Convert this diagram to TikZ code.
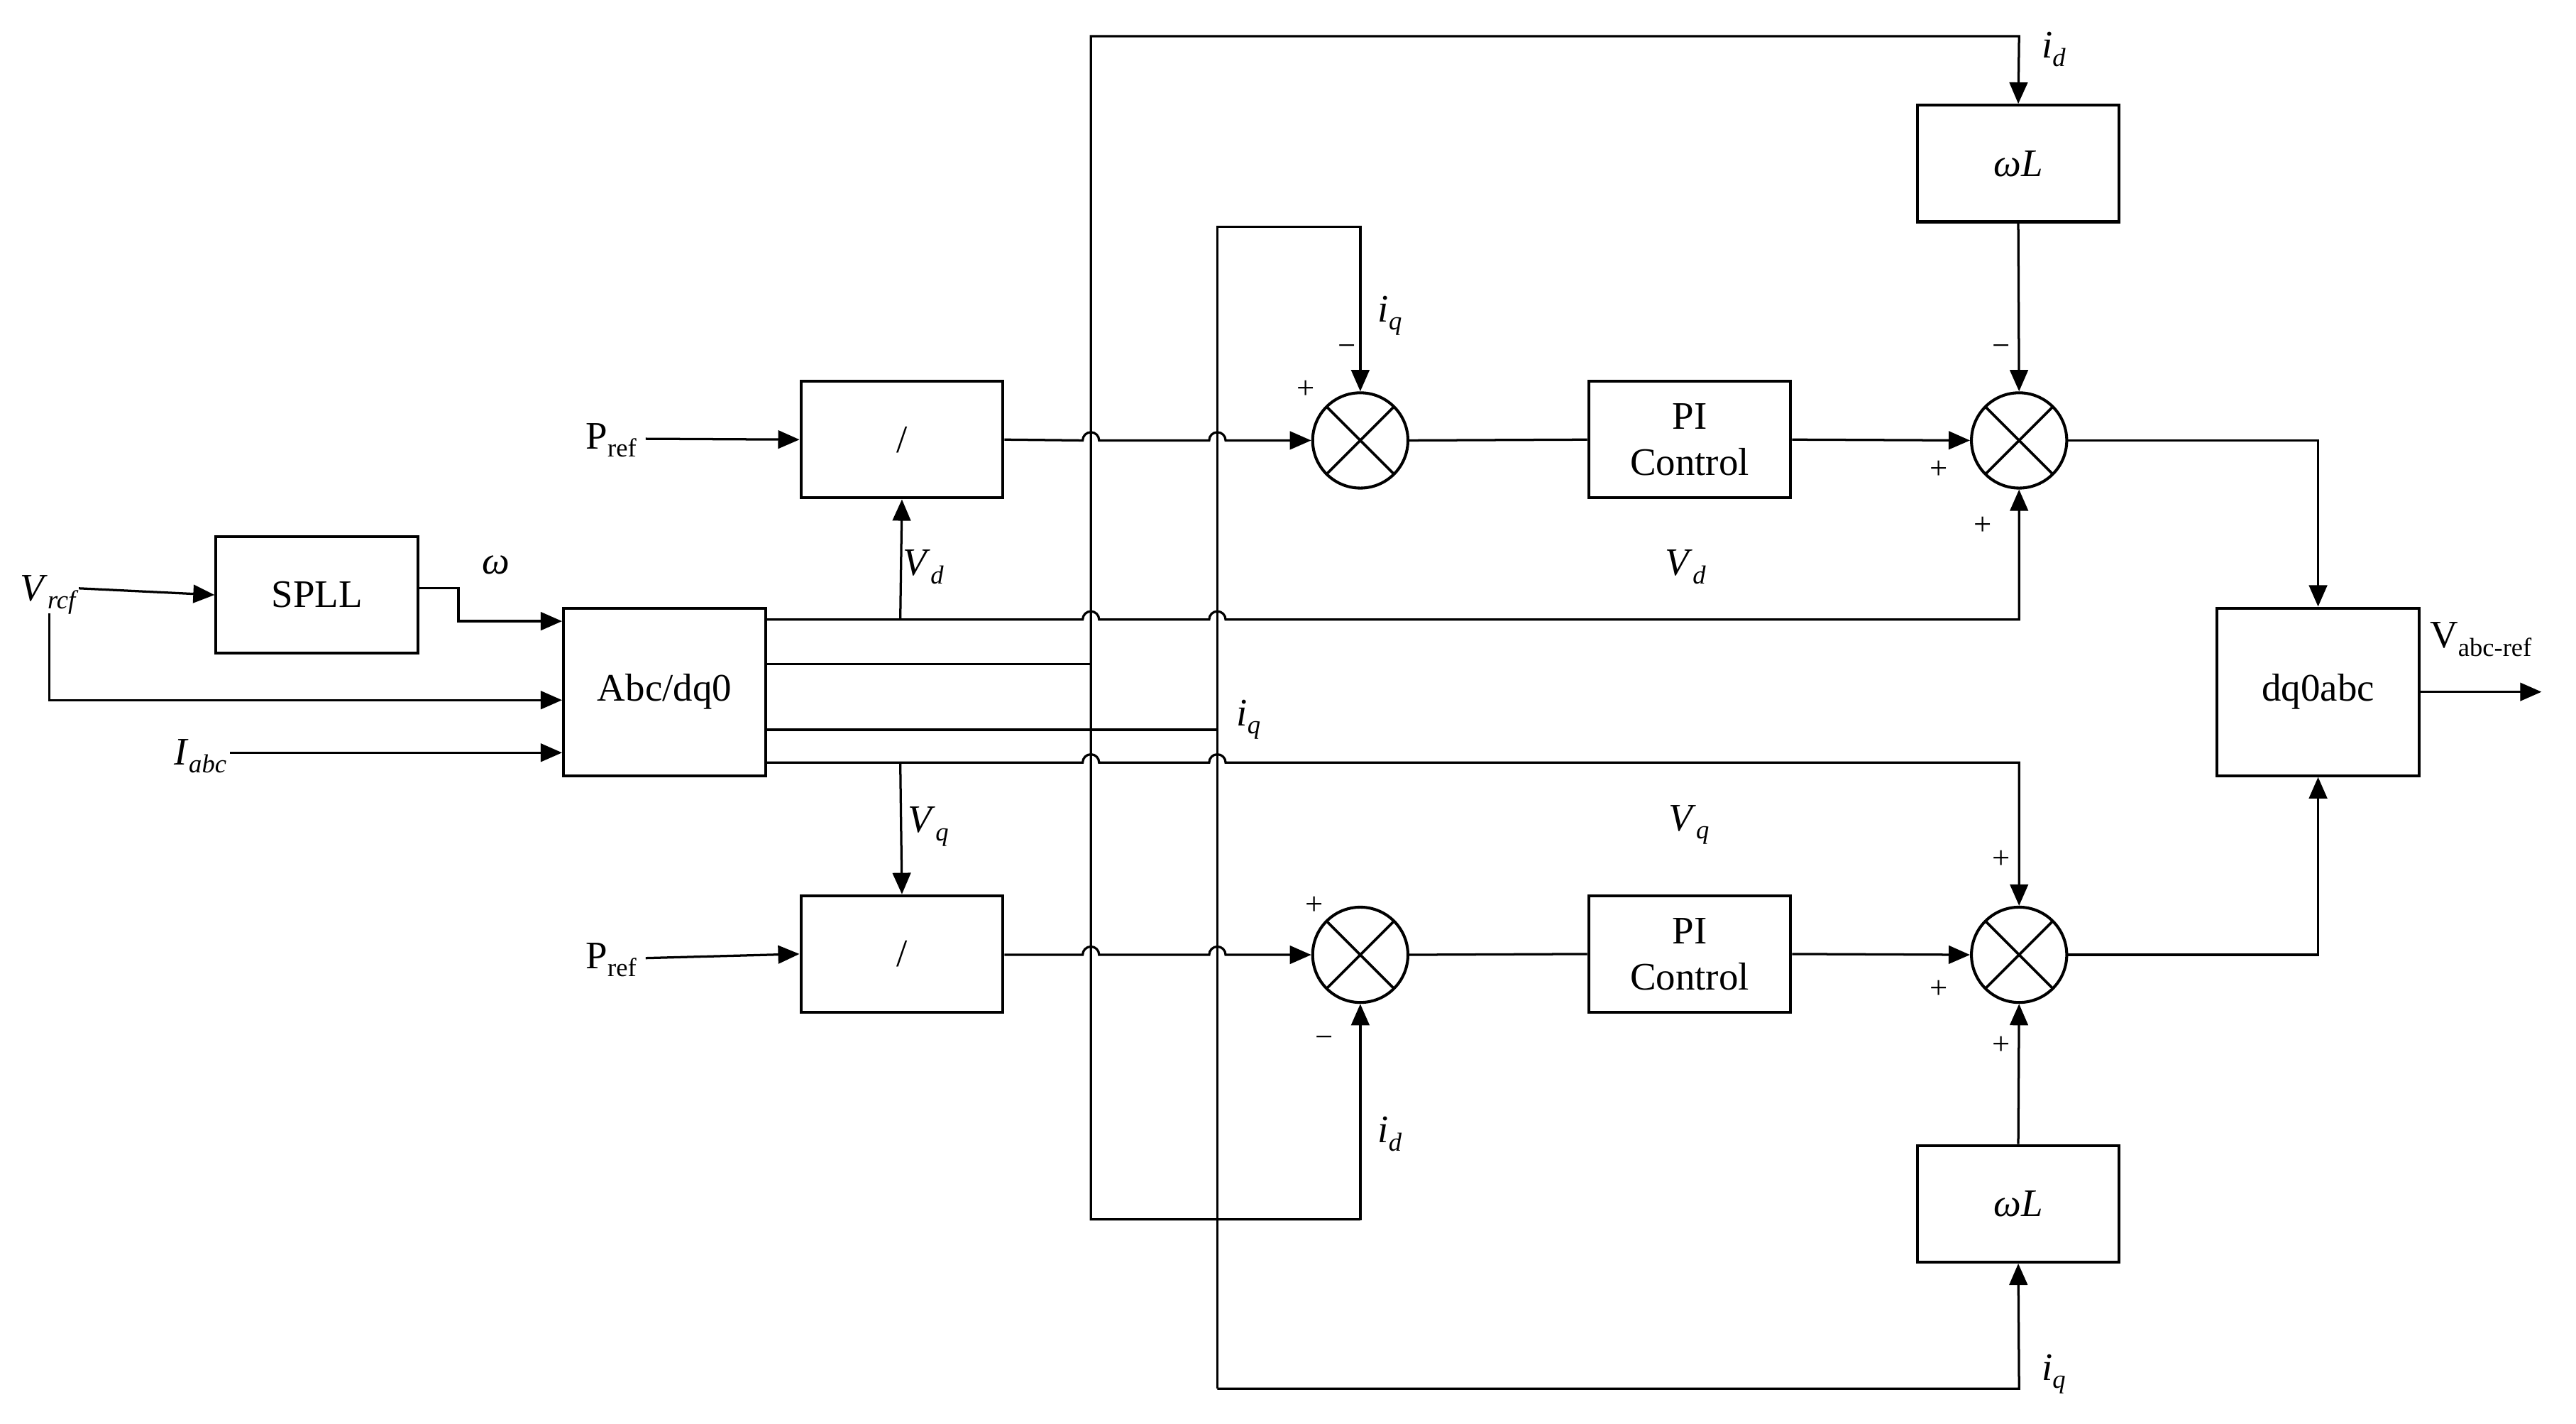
\documentclass[tikz,border=0pt]{standalone}
\usepackage{fontspec}
\setmainfont{Liberation Serif}
\usetikzlibrary{arrows.meta}
\newcommand{\lbl}[2]{#1\raisebox{-0.45ex}{\fontsize{9}{10}\selectfont #2}}
\begin{document}
\begin{tikzpicture}[x=0.02cm,y=-0.02cm,line width=0.8pt,
  font=\fontsize{13.5}{16}\selectfont,
  blk/.style={draw,line width=1pt,minimum width=2.46cm,minimum height=1.42cm,inner sep=0pt,align=center},
  big/.style={blk,minimum height=2.04cm},
  sum/.style={draw,circle,minimum size=1.16cm,inner sep=0pt,line width=1pt,
     path picture={\draw[line width=0.9pt] (path picture bounding box.south west)++(0.17cm,0.17cm) -- ++(0.82cm,0.82cm)
       (path picture bounding box.north west)++(0.17cm,-0.17cm) -- ++(0.82cm,-0.82cm);}},
  arr/.style={-{Triangle[length=0.26cm,width=0.22cm]}},
  t/.style={inner sep=0pt}]
\useasboundingbox (0,0) rectangle (1568,866.5);
% blocks
\node[blk] (spll) at (193,362) {SPLL};
\node[big] (abc) at (404.5,421) {Abc/dq0};
\node[blk] (div1) at (549,267.5) {/};
\node[blk] (div2) at (549,580.5) {/};
\node[blk] (pi1) at (1028.5,267.5) {PI\\Control};
\node[blk] (pi2) at (1028.5,580.5) {PI\\Control};
\node[blk] (wl1) at (1228.5,99.5) {\textit{ωL}};
\node[blk] (wl2) at (1228.5,732.5) {\textit{ωL}};
\node[big] (dq) at (1411,421) {dq0abc};
\node[sum] (s1) at (828,268) {};
\node[sum] (s2) at (1229,268) {};
\node[sum] (s3) at (828,581) {};
\node[sum] (s4) at (1229,581) {};
% labels
\node[t] (vref) at (30,362) {\lbl{\textit{V}}{\textit{rcf}}};
\node[t] at (302,344) {\textit{ω}};
\node[t] (iabc) at (122,460) {\lbl{\textit{I}}{\textit{abc}}};
\node[t] (p1) at (372,268) {\lbl{P}{ref}};
\node[t] (p2) at (372,584) {\lbl{P}{ref}};
\node[t] at (562,345) {\lbl{\textit{V}}{\textit{d}}};
\node[t] at (565,503) {\lbl{\textit{V}}{\textit{q}}};
\node[t] at (1026,345) {\lbl{\textit{V}}{\textit{d}}};
\node[t] at (1028,502) {\lbl{\textit{V}}{\textit{q}}};
\node[t] at (1250,30) {\lbl{\textit{i}}{\textit{d}}};
\node[t] at (846,192) {\lbl{\textit{i}}{\textit{q}}};
\node[t] at (846,690) {\lbl{\textit{i}}{\textit{d}}};
\node[t] at (760,438) {\lbl{\textit{i}}{\textit{q}}};
\node[t] at (1250,836) {\lbl{\textit{i}}{\textit{q}}};
\node[t] at (1510,389) {\lbl{V}{abc-ref}};
\node[t] (vout) at (1547,421) {};
% signs
\begin{scope}[font=\fontsize{11}{12}\selectfont]
\node[t] at (795,237) {+};
\node[t] at (820,213) {−};
\node[t] at (800,551) {+};
\node[t] at (806,634) {−};
\node[t] at (1218,213) {−};
\node[t] at (1180,286) {+};
\node[t] at (1207,320) {+};
\node[t] at (1218,523) {+};
\node[t] at (1180,602) {+};
\node[t] at (1218,636) {+};
\end{scope}
% left connections
\draw[arr] (48,358) -- (spll.west);
\draw[arr] (spll.east |- 0,358) -- (279,358) -- (279,378) -- (abc.west |- 0,378);
\draw[arr] (30,373) -- (30,426) -- (abc.west |- 0,426);
\draw[arr] (140,458) -- (abc.west |- 0,458);
\draw[arr] (393,267) -- (div1.west);
\draw[arr] (393,583) -- (div2.west);
% abc outputs
\draw[arr] (abc.east |- 0,377) -- (659,377) arc[start angle=180,end angle=0,radius=0.1cm]
  -- (736,377) arc[start angle=180,end angle=0,radius=0.1cm] -- (1229,377) -- (s2.south);
\draw[arr] (548,377) -- (div1.south);
\draw (abc.east |- 0,404) -- (664,404);
\draw (abc.east |- 0,444) -- (741,444);
\draw[arr] (abc.east |- 0,464) -- (659,464) arc[start angle=180,end angle=0,radius=0.1cm]
  -- (736,464) arc[start angle=180,end angle=0,radius=0.1cm] -- (1229,464) -- (s4.north);
\draw[arr] (548,464) -- (div2.north);
% dividers to sums
\draw[arr] (div1.east) -- (659,268) arc[start angle=180,end angle=0,radius=0.1cm]
  -- (736,268) arc[start angle=180,end angle=0,radius=0.1cm] -- (s1.west);
\draw[arr] (div2.east |- 0,581) -- (659,581) arc[start angle=180,end angle=0,radius=0.1cm]
  -- (736,581) arc[start angle=180,end angle=0,radius=0.1cm] -- (s3.west);
% id and iq buses
\draw[arr] (828,742) -- (664,742) -- (664,22) -- (1229,22) -- (wl1.north);
\draw[arr] (664,742) -- (828,742) -- (s3.south);
\draw[arr] (741,845) -- (741,138) -- (828,138) -- (s1.north);
\draw[arr] (741,845) -- (1229,845) -- (wl2.south);
% PI chain
\draw (s1.east) -- (pi1.west);
\draw (s3.east) -- (pi2.west);
\draw[arr] (pi1.east) -- (s2.west);
\draw[arr] (pi2.east) -- (s4.west);
\draw[arr] (wl1.south) -- (s2.north);
\draw[arr] (wl2.north) -- (s4.south);
\draw[arr] (s2.east) -- (1411,268) -- (dq.north);
\draw[arr] (s4.east) -- (1411,581) -- (dq.south);
\draw[arr] (dq.east) -- (vout.center);
\end{tikzpicture}
\end{document}
